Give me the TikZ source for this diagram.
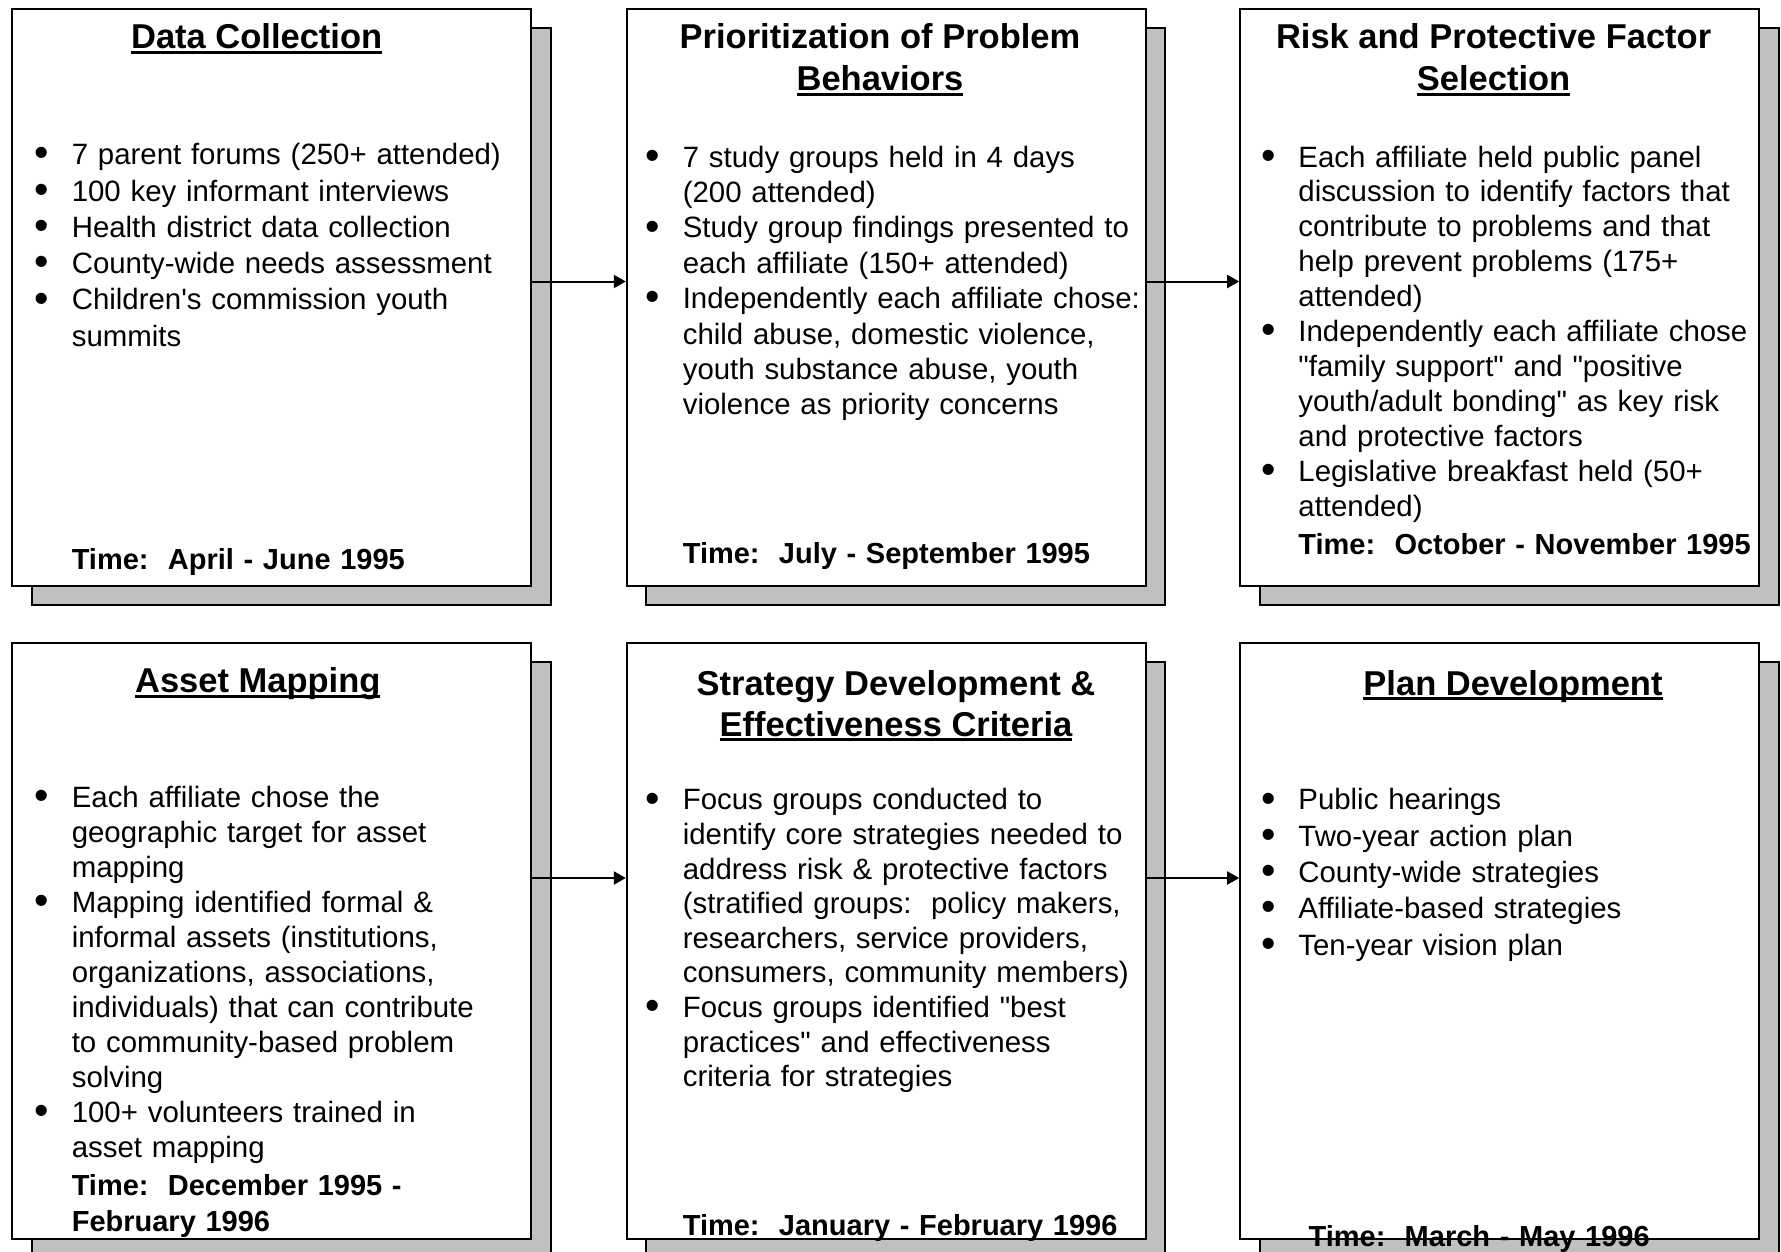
\documentclass[tikz,border=0pt]{standalone}
\usepackage{fontspec}
\usepackage{graphicx}
\setmainfont{Liberation Sans}
\usetikzlibrary{arrows.meta,shadows}
\definecolor{shade}{RGB}{192,192,192}
\frenchspacing
\newcommand\bul{\leavevmode\llap{\smash{\raisebox{-2.2pt}{\scalebox{1.4}{\textbullet}}}\hspace{23pt}}}
\newcommand\myul[1]{\setbox0\hbox{#1}\rlap{\rule[-5pt]{\wd0}{2.6pt}}\box0}
\newcommand\q{\textquotedbl}
\tikzset{
  box/.style={draw=black, line width=2pt, fill=white, anchor=north west,
    minimum width=519pt, minimum height=577pt, inner sep=0pt,
    drop shadow={shadow xshift=19.3pt, shadow yshift=-19.3pt, fill=shade,
      draw=black, line width=2pt, opacity=1}},
  arr/.style={line width=2pt, -{Triangle[length=12pt,width=13pt]}},
  title/.style={anchor=base, inner sep=0pt, font=\fontsize{34.5}{42}\selectfont\bfseries},
  body/.style={anchor=base west, inner sep=0pt, align=left, text width=560pt,
    font=\fontsize{29.4}{35}\selectfont},
  timetxt/.style={anchor=base west, inner sep=0pt, align=left, text width=560pt,
    font=\fontsize{29}{36}\selectfont\bfseries}
}
\begin{document}
\begin{tikzpicture}[x=1pt,y=1pt]
\clip (0,0) rectangle (1781,-1251);
% boxes
\node[box] (b1) at (11.4,-8) {};
\node[box] (b2) at (625.8,-8) {};
\node[box] (b3) at (1239.2,-8) {};
\node[box, minimum height=596.3pt] (b4) at (11.4,-641.7) {};
\node[box, minimum height=596.3pt] (b5) at (625.8,-641.7) {};
\node[box, minimum height=596.3pt] (b6) at (1239.2,-641.7) {};
% arrows
\draw[arr] ([yshift=16pt]b1.east) -- ([yshift=16pt]b2.west);
\draw[arr] ([yshift=16pt]b2.east) -- ([yshift=16pt]b3.west);
\draw[arr] ([yshift=62.85pt]b4.east) -- ([yshift=62.85pt]b5.west);
\draw[arr] ([yshift=62.85pt]b5.east) -- ([yshift=62.85pt]b6.west);
% titles
\node[title] (t1) at (256.7,-48.8) {\myul{Data Collection}};
\node[title] (t2a) at (880,-48.8) {Prioritization of Problem};
\node[title] (t2b) at (880,-90.9) {\myul{Behaviors}};
\node[title] (t3a) at (1493.6,-48.8) {Risk and Protective Factor};
\node[title] (t3b) at (1493.6,-90.9) {\myul{Selection}};
\node[title] (t4) at (257.8,-692.8) {\myul{Asset Mapping}};
\node[title] (t5a) at (896,-695) {Strategy Development \&};
\node[title] (t5b) at (896,-736) {\myul{Effectiveness Criteria}};
\node[title] (t6) at (1513,-695) {\myul{Plan Development}};
% bodies
\node[body, font=\fontsize{29.4}{36.3}\selectfont] (x1) at (71.6,-164.7) {\bul 7 parent forums (250+ attended)\\
\bul 100 key informant interviews\\
\bul Health district data collection\\
\bul County-wide needs assessment\\
\bul Children\textquotesingle s commission youth\\
summits};
\node[body, font=\fontsize{29.4}{35.4}\selectfont] (x2) at (682.6,-167) {\bul 7 study groups held in 4 days\\
(200 attended)\\
\bul Study group findings presented to\\
each affiliate (150+ attended)\\
\bul Independently each affiliate chose:\\
child abuse, domestic violence,\\
youth substance abuse, youth\\
violence as priority concerns};
\node[body, font=\fontsize{29.4}{34.9}\selectfont] (x3) at (1298.2,-167) {\bul Each affiliate held public panel\\
discussion to identify factors that\\
contribute to problems and that\\
help prevent problems (175+\\
attended)\\
\bul Independently each affiliate chose\\
\q family support\q{} and \q positive\\
youth/adult bonding\q{} as key risk\\
and protective factors\\
\bul Legislative breakfast held (50+\\
attended)};
\node[body, font=\fontsize{29.4}{35}\selectfont] (x4) at (71.6,-807.6) {\bul Each affiliate chose the\\
geographic target for asset\\
mapping\\
\bul Mapping identified formal \&\\
informal assets (institutions,\\
organizations, associations,\\
individuals) that can contribute\\
to community-based problem\\
solving\\
\bul 100+ volunteers trained in\\
asset mapping};
\node[body, font=\fontsize{29.4}{34.6}\selectfont] (x5) at (682.6,-809.8) {\bul Focus groups conducted to\\
identify core strategies needed to\\
address risk \& protective factors\\
(stratified groups:~ policy makers,\\
researchers, service providers,\\
consumers, community members)\\
\bul Focus groups identified \q best\\
practices\q{} and effectiveness\\
criteria for strategies};
\node[body, font=\fontsize{29.4}{36.3}\selectfont] (x6) at (1298.2,-809.8) {\bul Public hearings\\
\bul Two-year action plan\\
\bul County-wide strategies\\
\bul Affiliate-based strategies\\
\bul Ten-year vision plan};
% times
\node[timetxt] (m1) at (71.6,-569) {Time:~ April - June 1995};
\node[timetxt] (m2) at (682.6,-563.7) {Time:~ July - September 1995};
\node[timetxt] (m3) at (1298.2,-554.6) {Time:~ October - November 1995};
\node[timetxt] (m4) at (71.6,-1195) {Time:~ December 1995 -\\February 1996};
\node[timetxt] (m5) at (682.6,-1235) {Time:~ January - February 1996};
\node[timetxt] (m6) at (1308.4,-1246) {Time:~ March - May 1996};
\end{tikzpicture}
\end{document}
